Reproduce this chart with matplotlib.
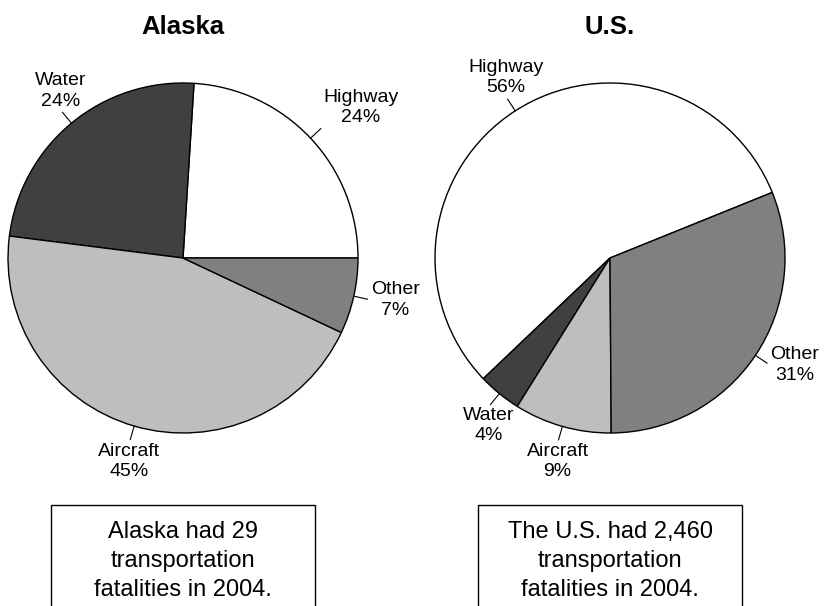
import numpy as np
import matplotlib
matplotlib.use("Agg")
import matplotlib.pyplot as plt
from matplotlib.patches import Rectangle

plt.rcParams['font.family'] = ['Liberation Sans', 'DejaVu Sans']

# data
categories = ["Highway", "Water", "Aircraft", "Other"]
alaska_pct = [24, 24, 45, 7]
us_pct = [56, 4, 9, 31]
slice_colors = ["#ffffff", "#404040", "#bebebe", "#808080"]
titles = ["Alaska", "U.S."]
notes = ["Alaska had 29\ntransportation\nfatalities in 2004.",
         "The U.S. had 2,460\ntransportation\nfatalities in 2004."]

W, H = 827, 606
fig = plt.figure(figsize=(W / 100, H / 100), dpi=100)
ax = fig.add_axes([0, 0, 1, 1])

R = 175
pies = [
    # (values, centre x, centre y (from top), start angle)
    (alaska_pct, 183, 258, 0),
    (us_pct, 610, 258, 22),
]


def label_slices(ax, wedges, cx, cy, values):
    for w, name, v in zip(wedges, categories, values):
        ang = np.radians((w.theta1 + w.theta2) / 2)
        c, s = np.cos(ang), np.sin(ang)
        ax.plot([cx + R * c, cx + 1.08 * R * c], [cy + R * s, cy + 1.08 * R * s],
                color="black", lw=0.8)
        ha = "left" if c > 0.7 else ("right" if c < -0.7 else "center")
        va = "bottom" if s > 0.6 else ("top" if s < -0.6 else "center")
        ax.text(cx + 1.1 * R * c, cy + 1.1 * R * s, f"{name}\n{v}%",
                ha=ha, va=va, multialignment="center", fontsize=14,
                linespacing=1.25)


for i, (vals, cx, cy, start) in enumerate(pies):
    yc = H - cy
    wedges, _ = ax.pie(vals, colors=slice_colors, startangle=start,
                       counterclock=True, center=(cx, yc), radius=R,
                       wedgeprops=dict(edgecolor="black", linewidth=1.0))
    label_slices(ax, wedges, cx, yc, vals)

    ax.text(cx, H - 27, titles[i], ha="center", va="center",
            fontsize=18.5, fontweight="bold")

    bx = cx - 132
    ax.add_patch(Rectangle((bx, -20), 264, H - 505 + 20, facecolor="white",
                           edgecolor="black", lw=1.0))
    ax.text(cx, H - 561, notes[i], ha="center", va="center",
            multialignment="center", fontsize=17, linespacing=1.4)

ax.set_xlim(0, W)
ax.set_ylim(0, H)
ax.set_aspect("auto")
ax.axis("off")

fig.savefig("out.png", dpi=100)
